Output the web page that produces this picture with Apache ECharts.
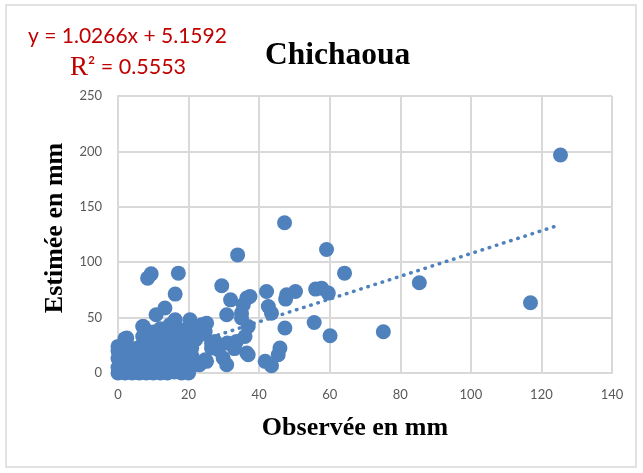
<!DOCTYPE html>
<html>
<head>
<meta charset="utf-8">
<script src="https://cdn.jsdelivr.net/npm/echarts@6/dist/echarts.min.js"></script>
<style>html,body{margin:0;padding:0;background:#fff}#c{width:643px;height:473px}</style>
</head>
<body>
<div id="c"></div>
<script>
const observed = [
  0,1,2,3,4,5,6,7,8,9,10,11,12,13,14,15,16,17,18,20,
  0,1,2,3,4,5,6,7,8,9,10,11,12,13,14,15,16,18,19,22,
  0,1,2,3,4,5,6,7,8,9,10,11,12,13,14,15,16,17,18,19,21,
  0,1,3,4,5,6,7,8,9,10,11,12,13,14,15,16,17,18,19,
  2,7,8,9,10,11,12,13,14,15,16,17,18,19,20,22,
  7,8,10,12,13,14,14.7,16,17,19,21,23.7,
  0,2.5,7.2,8.4,9.4,17.1,16.2,13.3,10.8,16.2,20.4,25.1,20.9,24.7,26.5,27.5,33.6,28.4,26.5,20.9,29.8,24.7,20.4,21.8,23.1,25.1,30.8,17.1,31,33,
  29.4,31.9,36.5,37.4,30.8,35,35,35.5,36.9,36,36.5,36.9,33.9,42.1,42.6,43.5,47.3,45.9,45.4,41.7,43.5,47.8,47.2,59.1,64.2,56,57.7,59.6,50.3,47.5,55.6,60.1,75.2,85.4,116.9,125.4
];
const estimated = [
  0,1,0,2,0,1,0,2,0,1,0,2,0,1,0,3,1,3,0,0,
  5,8,6,9,5,7,10,6,9,5,8,6,10,7,9,6,8,7,9,8,
  13,16,12,15,18,13,16,12,17,14,16,12,18,14,16,12,17,14,16,12,15,
  20,24,21,20,22,20,26,23,21,25,22,26,20,24,22,27,21,25,28,
  31,33,29,33,30,35,31,28,33,30,35,32,29,34,31,30,
  42,38,37,40,36,38,43.5,41,37,39,42,43.5,
  24,31.5,42,85.6,89.5,90.1,71.2,58.6,52.6,48,48,45,36,37.5,27,28.5,28.5,21,22.5,22.5,13.5,12,13.5,7.5,7.5,10.5,7.5,3,27,22,
  78.7,66,67.6,69,52.6,54,49.6,61.6,42,33,18,16.5,106.6,73.6,60,54,40.6,22.5,16.5,10.5,6.6,70.6,135.6,111.4,90.1,75.7,76.6,72.1,73.6,66.7,45.6,33.6,37.2,81.4,63.4,196.8
];
// Linear trend from the chart's equation
const slope = 1.0266;
const intercept = 5.1592;
const trendX = [0, 125.4];
const xTicks = [0, 140, 20];   // min, max, interval
const yTicks = [0, 250, 50];

const points = observed.map((x, i) => [x, estimated[i]]);
const trend = trendX.map(x => [x, slope * x + intercept]);

const chart = echarts.init(document.getElementById('c'), null, {renderer: 'canvas'});
const blue = '#4f81bd';
const grid = '#d9d9d9';
const titleFont = {fontFamily: 'Liberation Serif', fontWeight: 'bold', fontSize: 26, fill: '#000'};
chart.setOption({
  animation: false,
  backgroundColor: '#fff',
  grid: {left: 118, right: 31, top: 96, bottom: 100, containLabel: false},
  xAxis: {
    type: 'value', min: xTicks[0], max: xTicks[1], interval: xTicks[2],
    axisLine: {show: true, lineStyle: {color: grid, width: 2}},
    axisTick: {show: false},
    splitLine: {show: true, lineStyle: {color: grid, width: 2}},
    axisLabel: {color: '#595959', fontFamily: 'Lato', fontSize: 13, margin: 15}
  },
  yAxis: {
    type: 'value', min: yTicks[0], max: yTicks[1], interval: yTicks[2],
    axisLine: {show: true, lineStyle: {color: grid, width: 2}},
    axisTick: {show: false},
    splitLine: {show: true, lineStyle: {color: grid, width: 2}},
    axisLabel: {color: '#595959', fontFamily: 'Lato', fontSize: 13, margin: 16}
  },
  series: [
    {
      type: 'scatter', data: points, symbolSize: 15, clip: false,
      itemStyle: {color: blue, opacity: 1, borderWidth: 0}, z: 2,
      emphasis: {disabled: true}
    },
    {
      type: 'line', data: trend, showSymbol: false, symbol: 'none', z: 3,
      lineStyle: {color: blue, width: 3.5, type: [0.5, 7], cap: 'round'}
    }
  ],
  graphic: [
    {type: 'rect', shape: {x: 6, y: 5, width: 630, height: 462}, style: {fill: 'none', stroke: '#d9d9d9', lineWidth: 1.5}, silent: true},
    {type: 'text', left: 265, top: 40, style: {text: 'Chichaoua', fontFamily: 'Liberation Serif', fontWeight: 'bold', fontSize: 31.5, fill: '#000'}},
    {type: 'text', x: 355, y: 428, style: Object.assign({text: 'Observée en mm', textAlign: 'center', textVerticalAlign: 'middle'}, titleFont)},
    {type: 'text', x: 55, y: 228, rotation: Math.PI / 2, style: Object.assign({text: 'Estimée en mm', textAlign: 'center', textVerticalAlign: 'middle'}, titleFont)},
    {type: 'text', left: 28, top: 26, style: {text: 'y = 1.0266x + 5.1592', fontFamily: 'Lato', fontSize: 21, fill: '#c00000'}},
    {type: 'text', left: 70, top: 54, style: {
      text: '{r|R}{n|² = 0.5553}',
      rich: {
        r: {fontFamily: 'Liberation Serif', fontSize: 27, fill: '#c00000', color: '#c00000'},
        n: {fontFamily: 'Lato', fontSize: 21.5, fill: '#c00000', color: '#c00000'}
      }
    }}
  ]
});
</script>
</body>
</html>
